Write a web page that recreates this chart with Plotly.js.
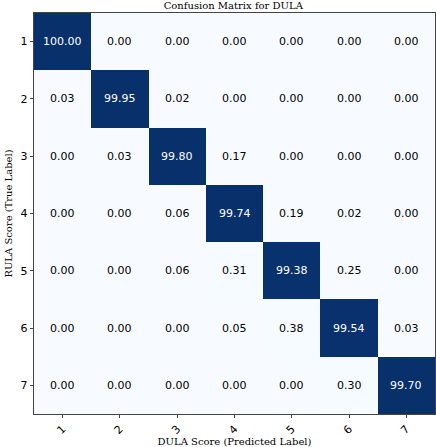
<!DOCTYPE html>
<html>
<head>
<meta charset="utf-8">
<script src="https://cdn.plot.ly/plotly-3.0.1.min.js"></script>
<style>
  html, body { margin: 0; padding: 0; background: #fff; }
  #chart { width: 436px; height: 447px; }
</style>
</head>
<body>
<div id="chart"></div>
<script>
// Confusion matrix values (percent), rows = true label, cols = predicted label
const labels = ['1', '2', '3', '4', '5', '6', '7'];
const row1 = [100.00, 0.00, 0.00, 0.00, 0.00, 0.00, 0.00];
const row2 = [0.03, 99.95, 0.02, 0.00, 0.00, 0.00, 0.00];
const row3 = [0.00, 0.03, 99.80, 0.17, 0.00, 0.00, 0.00];
const row4 = [0.00, 0.00, 0.06, 99.74, 0.19, 0.02, 0.00];
const row5 = [0.00, 0.00, 0.06, 0.31, 99.38, 0.25, 0.00];
const row6 = [0.00, 0.00, 0.00, 0.05, 0.38, 99.54, 0.03];
const row7 = [0.00, 0.00, 0.00, 0.00, 0.00, 0.30, 99.70];
const matrix = [row1, row2, row3, row4, row5, row6, row7];

const serif = 'DejaVu Serif, Liberation Serif, serif';
const sans = 'DejaVu Sans, sans-serif';

// Blues colormap (matplotlib)
const blues = [
  [0.000, '#f7fbff'], [0.125, '#deebf7'], [0.250, '#c6dbef'],
  [0.375, '#9ecae1'], [0.500, '#6baed6'], [0.625, '#4292c6'],
  [0.750, '#2171b5'], [0.875, '#08519c'], [1.000, '#08306b']
];

const trace = {
  type: 'heatmap',
  x: labels,
  y: labels,
  z: matrix,
  zmin: 0,
  zmax: 100,
  colorscale: blues,
  showscale: false,
  hoverinfo: 'skip'
};

// cell value labels (category index positions)
const annotations = [];
matrix.forEach((row, i) => {
  row.forEach((v, j) => {
    annotations.push({
      x: j, y: i, xref: 'x', yref: 'y',
      text: v.toFixed(2), showarrow: false,
      font: { family: sans, size: 11, color: v > 50 ? '#ffffff' : '#000000' }
    });
  });
});

const axisCommon = {
  type: 'category',
  showline: true,
  mirror: true,
  linecolor: '#444',
  linewidth: 1.2,
  ticks: 'outside',
  ticklen: 3,
  tickcolor: '#444',
  showgrid: false,
  zeroline: false,
  tickfont: { family: sans, size: 11, color: '#000' }
};

const layout = {
  width: 436,
  height: 447,
  margin: { l: 34, r: 1, t: 13, b: 33 },
  paper_bgcolor: '#fff',
  plot_bgcolor: '#fff',
  title: {
    text: 'Confusion Matrix for DULA',
    font: { family: serif, size: 10, color: '#000' },
    x: 0.535, xanchor: 'center', y: 0.988, yanchor: 'middle'
  },
  xaxis: {
    ...axisCommon,
    tickangle: -45,
    title: { text: 'DULA Score (Predicted Label)', font: { family: serif, size: 10, color: '#000' }, standoff: 2 }
  },
  yaxis: {
    ...axisCommon,
    autorange: 'reversed',
    title: { text: 'RULA Score (True Label)', font: { family: serif, size: 10, color: '#000' }, standoff: 6 }
  },
  annotations: annotations,
  showlegend: false
};

Plotly.newPlot('chart', [trace], layout, { displayModeBar: false, staticPlot: true });
</script>
</body>
</html>
